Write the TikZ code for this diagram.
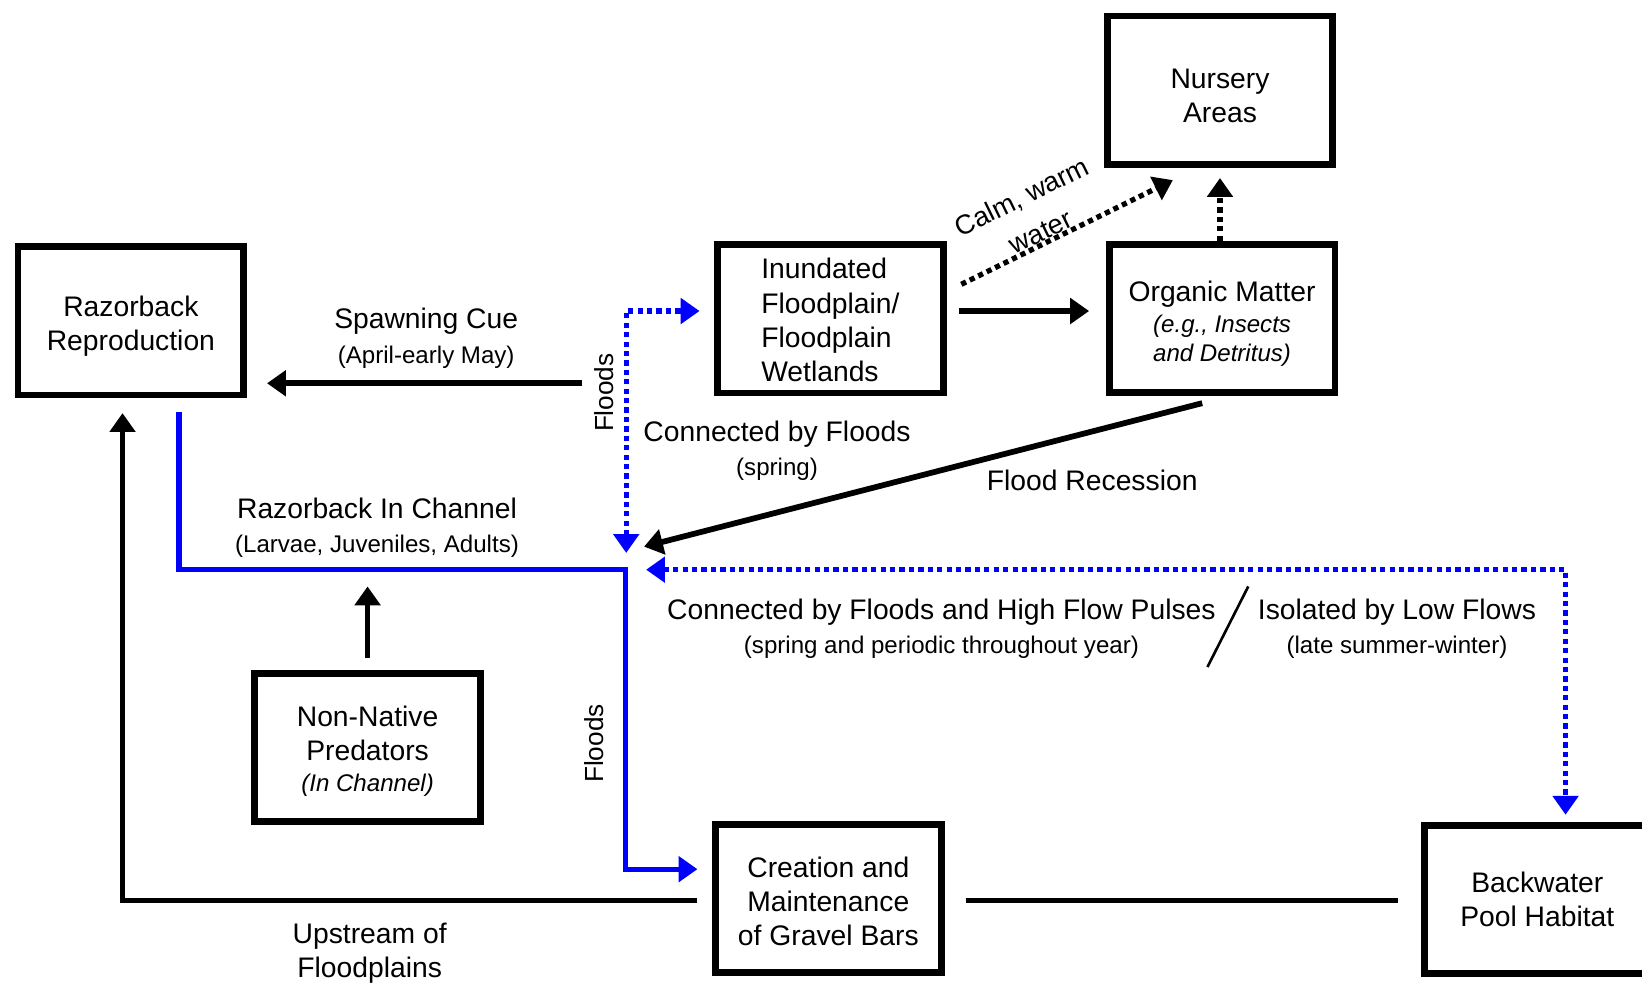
\documentclass[tikz,border=0pt]{standalone}
\usepackage{fontspec}
\setmainfont{Liberation Sans}
\usetikzlibrary{arrows.meta,calc}
\definecolor{fblue}{RGB}{0,0,255}
\newcommand\dgmain{\fontsize{27}{32.5}\selectfont}
\newcommand\dgsmall{\fontsize{23}{28}\selectfont}
\tikzset{
  box/.style={draw, line width=6.5pt, minimum width=215.5pt, minimum height=141.5pt, inner sep=0pt},
  btxt/.style={font=\dgmain, align=center, inner sep=0pt},
  lbl/.style={font=\dgmain, align=center, inner sep=0pt},
  blk/.style={line width=5.5pt, black},
  kdot/.style={line width=5pt, black, dash pattern=on 5pt off 4pt},
  bdot/.style={line width=5pt, fblue, dash pattern=on 5pt off 4pt},
  bsol/.style={line width=5pt, fblue},
  >={Triangle[length=18pt,width=24pt]}
}
\begin{document}
\begin{tikzpicture}[x=1pt,y=-1pt]
\useasboundingbox (0,0) rectangle (1568,938);

% boxes
\node[box] (repro) at (125,306.5) {};
\node[box] (inund) at (793,304.5) {};
\node[box] (nursery) at (1165,86) {};
\node[box] (organic) at (1167,304) {};
\node[box] (pred) at (351,714) {};
\node[box] (gravel) at (791,858) {};
\node[box] (back) at (1468,859) {};

% box texts
\node[btxt] (reproT) at ([yshift=-5pt]repro.center) {Razorback\\Reproduction};
\node[btxt, align=left] (inundT) at ([yshift=-1pt]inund.center) {Inundated\\Floodplain/\\Floodplain\\Wetlands};
\node[btxt] (nurseryT) at ([yshift=-6pt]nursery.center) {Nursery\\Areas};
\node[btxt] (organicT) at ([yshift=-5pt]organic.center) {Organic Matter\\[-3pt]{\dgsmall\itshape (e.g., Insects}\\[-5pt]{\dgsmall\itshape and Detritus)}};
\node[btxt] (predT) at ([yshift=-3pt]pred.center) {Non-Native\\Predators\\[-3pt]{\dgsmall\itshape (In Channel)}};
\node[btxt] (gravelT) at ([yshift=-3pt]gravel.center) {Creation and\\Maintenance\\of Gravel Bars};
\node[btxt] (backT) at (back.center) {Backwater\\Pool Habitat};

% hub coordinates
\coordinate (hubA) at (598,528);
\coordinate (hubB) at (615,522);
\coordinate (hubC) at (617,544);
\coordinate (chanCorner) at (597,544);
\coordinate (scStart) at (556,366);
\coordinate (slashA) at (1192,560);
\coordinate (slashB) at (1153,637);

% connectors
\draw[blk, ->, shorten >=19pt] (scStart) -- (scStart -| repro.east);
\draw[bdot, <->] (hubA) |- ([xshift=-14pt,yshift=7.5pt]inund.west);
\draw[blk, ->] ([xshift=12pt,yshift=7.5pt]inund.east) -- ([xshift=-16pt,yshift=7pt]organic.west);
\draw[kdot, ->] ([xshift=14pt,yshift=-41pt]inund.north east) -- ([xshift=66pt,yshift=-12pt]nursery.south west);
\draw[kdot, ->, shorten >=10pt] (organic.north -| nursery.south) -- (nursery.south);
\draw[blk, ->] ([xshift=-19pt,yshift=-7pt]organic.south) -- (hubB);
\draw[bdot, <->] (hubC) -| ([xshift=27pt,yshift=7pt]back.north);
\draw[bsol, ->] ([xshift=46pt,yshift=-13pt]repro.south) |- (chanCorner) |- ([xshift=-14pt,yshift=28pt]gravel.west);
\draw[blk, ->, shorten <=12pt] (pred.north) -- ([yshift=80pt]pred.north);
\draw[blk, ->] ([xshift=-14pt,yshift=-2pt]gravel.west) -| ([xshift=-8pt,yshift=-14pt]repro.south);
\draw[blk] ([xshift=20pt,yshift=-2pt]gravel.east) -- ([xshift=-22pt,yshift=-1pt]back.west);
\draw[line width=2.5pt] (slashA) -- (slashB);

% labels
\node[lbl] (lsc) at (407,323) {Spawning Cue\\{\dgsmall (April-early May)}};
\node[lbl, rotate=90, font=\fontsize{25}{30}\selectfont] (lfl1) at (577,375) {Floods};
\node[lbl] (lcf) at (742,430) {Connected by Floods\\{\dgsmall (spring)}};
\node[lbl] (lfr) at (1043,459) {Flood Recession};
\node[lbl, rotate=26, font=\fontsize{26}{30}\selectfont] (lcw1) at (976,189) {Calm, warm};
\node[lbl, rotate=26, font=\fontsize{26}{30}\selectfont] (lcw2) at (994,222) {water};
\node[lbl] (lrc) at (360,504) {Razorback In Channel\\{\dgsmall (Larvae, Juveniles, Adults)}};
\node[lbl] (lhf) at (899,600) {Connected by Floods and High Flow Pulses\\{\dgsmall (spring and periodic throughout year)}};
\node[lbl] (llf) at (1334,600) {Isolated by Low Flows\\{\dgsmall (late summer-winter)}};
\node[lbl, rotate=90, font=\fontsize{25}{30}\selectfont] (lfl2) at (567,710) {Floods};
\node[lbl] (lup) at (353,910) {Upstream of\\Floodplains};
\end{tikzpicture}
\end{document}
